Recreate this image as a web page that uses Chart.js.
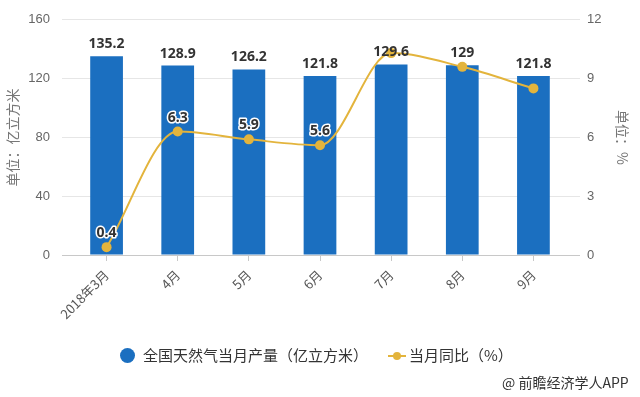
<!DOCTYPE html>
<html>
<head>
<meta charset="utf-8">
<script src="https://cdn.jsdelivr.net/npm/chart.js@4.4.0/dist/chart.umd.min.js"></script>
<style>
  html, body { margin: 0; padding: 0; background: #fff; }
  #wrap { position: relative; width: 640px; height: 397px; overflow: hidden; background: #fff; }
  #c { position: absolute; left: 0; top: 0; }
  .lg { position: absolute; font-family: "Noto Sans CJK SC", "Noto Sans", sans-serif; color: #333; font-size: 15px; line-height: 18px; white-space: nowrap; }
  .credit { position: absolute; font-family: "Noto Sans CJK SC", "Noto Sans", sans-serif; color: #333; font-size: 14px; line-height: 16px; white-space: nowrap; }
</style>
</head>
<body>
<div id="wrap">
  <canvas id="c" width="640" height="397"></canvas>
  <div class="lg" style="left:120px; top:348px; width:15px; height:15px; border-radius:50%; background:#1b6fc0;"></div>
  <div class="lg" id="lg1" style="left:143px; top:346px;"></div>
  <div class="lg" style="left:388px; top:355px; width:18px; height:2px; background:#e3b43c;"></div>
  <div class="lg" style="left:393px; top:352px; width:8px; height:8px; border-radius:50%; background:#e3b43c;"></div>
  <div class="lg" id="lg2" style="left:409px; top:346px;"></div>
  <div class="credit" style="left:502px; top:374px;">@ 前瞻经济学人APP</div>
</div>
<script>
// ---- data ----
const categories = ['2018年3月', '4月', '5月', '6月', '7月', '8月', '9月'];
const productionValues = [135.2, 128.9, 126.2, 121.8, 129.6, 129, 121.8];
const yoyValues = [0.4, 6.3, 5.9, 5.6, 10.3, 9.6, 8.5];
const seriesNames = ['全国天然气当月产量（亿立方米）', '当月同比（%）'];
const leftTicks = [0, 40, 80, 120, 160];
const rightTicks = [0, 3, 6, 9, 12];
const leftTitle = '单位：亿立方米';
const rightTitle = '单位：%';

document.getElementById('lg1').textContent = seriesNames[0];
document.getElementById('lg2').textContent = seriesNames[1];

const BLUE = '#1b6fc0';
const GOLD = '#e3b43c';
const GRID = '#e6e6e6';
const AXIS = '#c8c8c8';

const labelPlugin = {
  id: 'valueLabels',
  afterDatasetsDraw(chart) {
    const ctx = chart.ctx;
    const barMeta = chart.getDatasetMeta(0);
    const lineMeta = chart.getDatasetMeta(1);
    ctx.save();
    ctx.font = 'bold 14px "Noto Sans", "Liberation Sans", sans-serif';
    ctx.textAlign = 'center';
    ctx.textBaseline = 'middle';
    const barBoxes = barMeta.data.map((el, i) => {
      const txt = String(productionValues[i]);
      const w = ctx.measureText(txt).width;
      const cy = el.y - 12;
      return { txt, x: el.x, y: cy, x0: el.x - w / 2, x1: el.x + w / 2, y0: cy - 9, y1: cy + 9 };
    });
    // line labels (hidden where they collide with bar labels)
    lineMeta.data.forEach((el, i) => {
      const txt = String(yoyValues[i]);
      const w = ctx.measureText(txt).width;
      const cy = el.y - 14;
      const box = { x0: el.x - w / 2, x1: el.x + w / 2, y0: cy - 9, y1: cy + 9 };
      const hit = barBoxes.some(b => !(box.x1 < b.x0 || box.x0 > b.x1 || box.y1 < b.y0 || box.y0 > b.y1));
      if (hit) return;
      ctx.lineJoin = 'round';
      ctx.strokeStyle = '#ffffff';
      ctx.lineWidth = 3;
      ctx.strokeText(txt, el.x, cy);
      ctx.fillStyle = '#333333';
      ctx.fillText(txt, el.x, cy);
    });
    barBoxes.forEach(b => {
      ctx.fillStyle = '#333333';
      ctx.fillText(b.txt, b.x, b.y);
    });
    ctx.restore();
  }
};

new Chart(document.getElementById('c'), {
  data: {
    labels: categories,
    datasets: [
      {
        type: 'bar',
        label: seriesNames[0],
        data: productionValues,
        backgroundColor: BLUE,
        yAxisID: 'y',
        categoryPercentage: 1,
        barPercentage: 0.46,
        order: 1
      },
      {
        type: 'line',
        label: seriesNames[1],
        data: yoyValues,
        borderColor: GOLD,
        backgroundColor: GOLD,
        borderWidth: 2,
        pointRadius: 5,
        pointBackgroundColor: GOLD,
        pointBorderColor: GOLD,
        pointBorderWidth: 0,
        cubicInterpolationMode: 'monotone',
        yAxisID: 'y1',
        order: 0,
        clip: false
      }
    ]
  },
  options: {
    responsive: false,
    animation: false,
    devicePixelRatio: 1,
    layout: { padding: { top: 10, left: 0, right: 0, bottom: 0 } },
    plugins: { legend: { display: false }, tooltip: { enabled: false } },
    scales: {
      x: {
        type: 'category',
        offset: true,
        grid: { offset: false, drawOnChartArea: false, drawTicks: true, tickLength: 6, color: AXIS },
        border: { display: true, color: AXIS, width: 1 },
        ticks: {
          color: '#555',
          font: { size: 13, family: '"Noto Sans CJK SC", "Liberation Sans", sans-serif' },
          maxRotation: 45,
          minRotation: 45,
          padding: 6,
          autoSkip: false
        },
        afterFit(s) { s.height = 142; }
      },
      y: {
        position: 'left',
        min: leftTicks[0],
        max: leftTicks[leftTicks.length - 1],
        afterBuildTicks(s) { s.ticks = leftTicks.map(v => ({ value: v })); },
        ticks: { color: '#666', font: { size: 13, family: '"Liberation Sans", sans-serif' }, padding: 12 },
        grid: { color: c => (c.tick && c.tick.value === 0 ? AXIS : GRID), tickLength: 9, lineWidth: 1 },
        border: { display: false },
        title: {
          display: true, text: leftTitle, color: '#777',
          font: { size: 14, family: '"Noto Sans CJK SC", sans-serif', lineHeight: 1.2 },
          padding: { top: 4, bottom: 4 }
        },
        afterFit(s) { s.width = 71; }
      },
      y1: {
        position: 'right',
        min: rightTicks[0],
        max: rightTicks[rightTicks.length - 1],
        afterBuildTicks(s) { s.ticks = rightTicks.map(v => ({ value: v })); },
        ticks: { color: '#666', font: { size: 13, family: '"Liberation Sans", sans-serif' }, padding: 7 },
        grid: { drawOnChartArea: false, color: c => (c.tick && c.tick.value === 0 ? AXIS : GRID), tickLength: 11 },
        border: { display: false },
        title: {
          display: true, text: rightTitle, color: '#777',
          font: { size: 14, family: '"Noto Sans CJK SC", sans-serif', lineHeight: 1.2 },
          padding: { top: 9, bottom: 4 }
        },
        afterFit(s) { s.width = 71; }
      }
    }
  },
  plugins: [labelPlugin]
});
</script>
</body>
</html>
